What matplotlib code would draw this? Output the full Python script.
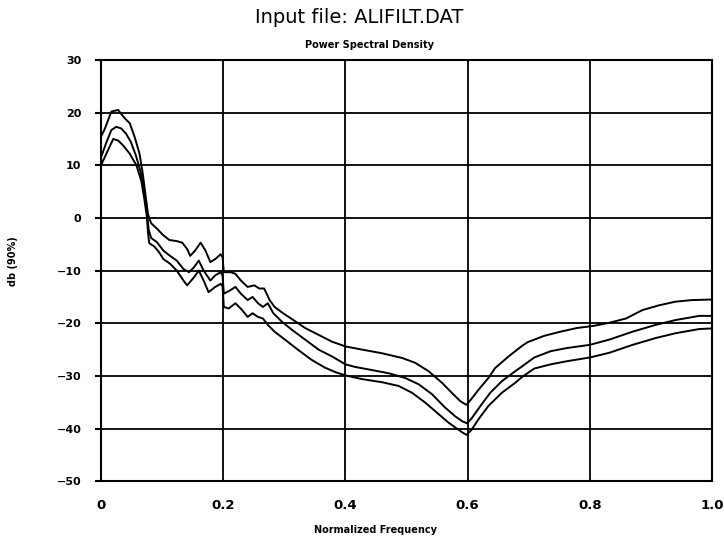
import matplotlib
matplotlib.use("Agg")
import matplotlib.pyplot as plt

# upper 90% bound
x_up = [0, 0.0065, 0.017, 0.028, 0.039, 0.047, 0.055, 0.063, 0.068, 0.073, 0.077, 0.082,
        0.093, 0.101, 0.112, 0.124, 0.133, 0.141, 0.146, 0.154, 0.163, 0.171, 0.179, 0.187,
        0.196, 0.199, 0.201, 0.212, 0.22, 0.229, 0.24, 0.251, 0.259, 0.267, 0.276, 0.284,
        0.298, 0.315, 0.334, 0.356, 0.378, 0.4, 0.427, 0.46, 0.493, 0.514, 0.536, 0.558,
        0.574, 0.588, 0.598, 0.606, 0.618, 0.634, 0.645, 0.667, 0.689, 0.698, 0.725, 0.752,
        0.779, 0.806, 0.832, 0.859, 0.886, 0.913, 0.94, 0.967, 0.997]
y_up = [15.4, 17, 20.2, 20.5, 18.9, 18, 15.4, 12.2, 8.7, 4.2, 0.7, -1,
        -2.2, -3.2, -4.2, -4.4, -4.7, -5.9, -7.2, -6.2, -4.7, -6.2, -8.4, -7.8,
        -6.9, -7.5, -10.3, -10.3, -10.6, -11.9, -13.1, -12.8, -13.4, -13.4, -15.6, -16.9,
        -18.1, -19.4, -20.9, -22.2, -23.5, -24.4, -25, -25.7, -26.6, -27.5, -29.1, -31.3,
        -33.2, -34.8, -35.5, -34.4, -32.6, -30.4, -28.5, -26.3, -24.3, -23.6, -22.4, -21.6,
        -20.9, -20.5, -19.9, -19.1, -17.5, -16.6, -15.9, -15.6, -15.5]

# estimate
x_mid = [0, 0.009, 0.017, 0.025, 0.033, 0.041, 0.049, 0.057, 0.065, 0.071, 0.075, 0.078,
         0.082, 0.0915, 0.102, 0.113, 0.124, 0.135, 0.144, 0.152, 0.16, 0.168, 0.179, 0.187,
         0.196, 0.199, 0.201, 0.212, 0.22, 0.229, 0.24, 0.248, 0.257, 0.265, 0.273, 0.282,
         0.296, 0.313, 0.334, 0.356, 0.378, 0.4, 0.416, 0.444, 0.471, 0.498, 0.52, 0.542,
         0.563, 0.58, 0.591, 0.599, 0.607, 0.621, 0.637, 0.656, 0.678, 0.689, 0.709, 0.736,
         0.763, 0.8, 0.832, 0.87, 0.908, 0.94, 0.979, 0.997]
y_mid = [11.5, 14.4, 16.7, 17.3, 17, 16, 14.4, 11.9, 8.7, 4.8, 1.3, -2.2,
         -3.8, -4.6, -6.2, -7.2, -8.1, -9.7, -10.3, -9.4, -8.1, -10, -11.9, -10.9,
         -10.3, -11, -14.4, -13.7, -13.1, -14.4, -15.6, -15, -16.2, -16.9, -16.2, -18.1,
         -19.7, -21.3, -23.1, -25, -26.3, -27.8, -28.3, -28.9, -29.5, -30.4, -31.6, -33.5,
         -36, -37.7, -38.6, -39, -38, -35.7, -33.2, -31, -29.1, -28.2, -26.5, -25.3,
         -24.7, -24.1, -23.1, -21.6, -20.3, -19.4, -18.6, -18.6]

# lower 90% bound
x_lo = [0, 0.01, 0.02, 0.028, 0.036, 0.047, 0.058, 0.066, 0.071, 0.075, 0.077, 0.079,
        0.087, 0.095, 0.102, 0.113, 0.124, 0.135, 0.141, 0.152, 0.16, 0.168, 0.176, 0.187,
        0.196, 0.199, 0.201, 0.209, 0.22, 0.231, 0.24, 0.248, 0.257, 0.265, 0.273, 0.284,
        0.301, 0.322, 0.344, 0.366, 0.384, 0.4, 0.427, 0.46, 0.487, 0.509, 0.531, 0.553,
        0.569, 0.58, 0.591, 0.598, 0.606, 0.618, 0.634, 0.656, 0.678, 0.689, 0.709, 0.736,
        0.763, 0.8, 0.832, 0.87, 0.908, 0.94, 0.979, 0.997]
y_lo = [10, 12.5, 15, 14.7, 13.8, 12.2, 10, 7, 3.5, 0.3, -2.9, -4.8,
        -5.4, -6.5, -7.8, -8.7, -10, -11.9, -12.8, -11.3, -10, -11.9, -14.1, -13.1,
        -12.5, -13, -16.9, -17.2, -16.2, -17.5, -18.8, -18.1, -18.8, -19.1, -20.3, -21.6,
        -23.1, -25, -26.9, -28.4, -29.3, -29.9, -30.6, -31.2, -31.9, -33.2, -35.1, -37.3,
        -38.9, -39.8, -40.7, -41.2, -40.3, -38.2, -35.7, -33.2, -31.3, -30.2, -28.6, -27.8,
        -27.2, -26.5, -25.6, -24.1, -22.8, -21.9, -21.1, -21]

xticks = [0, 0.2, 0.4, 0.6, 0.8, 1.0]
xlabels = ["0", "0.2", "0.4", "0.6", "0.8", "1.0"]
yticks = [30, 20, 10, 0, -10, -20, -30, -40, -50]

fig = plt.figure(figsize=(7.24, 5.45), dpi=100)
ax = fig.add_axes([0.1395, 0.117, 0.844, 0.773])

for xs, ys in [(x_up, y_up), (x_mid, y_mid), (x_lo, y_lo)]:
    ax.plot(xs, ys, color="black", lw=1.4)

ax.set_xlim(0, 1.0)
ax.set_ylim(-50, 30)
ax.set_xticks(xticks)
ax.set_xticklabels(xlabels)
ax.set_yticks(yticks)
ax.grid(True, color="black", lw=1.3)
for s in ax.spines.values():
    s.set_linewidth(1.5)
ax.tick_params(axis="y", length=4, width=1.5, pad=10, labelsize=8)
ax.tick_params(axis="x", length=0, pad=13, labelsize=9.5)
for t in ax.get_xticklabels() + ax.get_yticklabels():
    t.set_fontweight("bold")

fig.text(0.496, 0.967, "Input file: ALIFILT.DAT", ha="center", va="center", fontsize=14)
fig.text(0.51, 0.917, "Power Spectral Density", ha="center", va="center",
         fontsize=7, fontweight="bold")
fig.text(0.518, 0.027, "Normalized Frequency", ha="center", va="center",
         fontsize=7, fontweight="bold")
fig.text(0.018, 0.52, "db (90%)", ha="center", va="center", rotation=90,
         fontsize=7, fontweight="bold")

fig.savefig("out.png", dpi=100)
